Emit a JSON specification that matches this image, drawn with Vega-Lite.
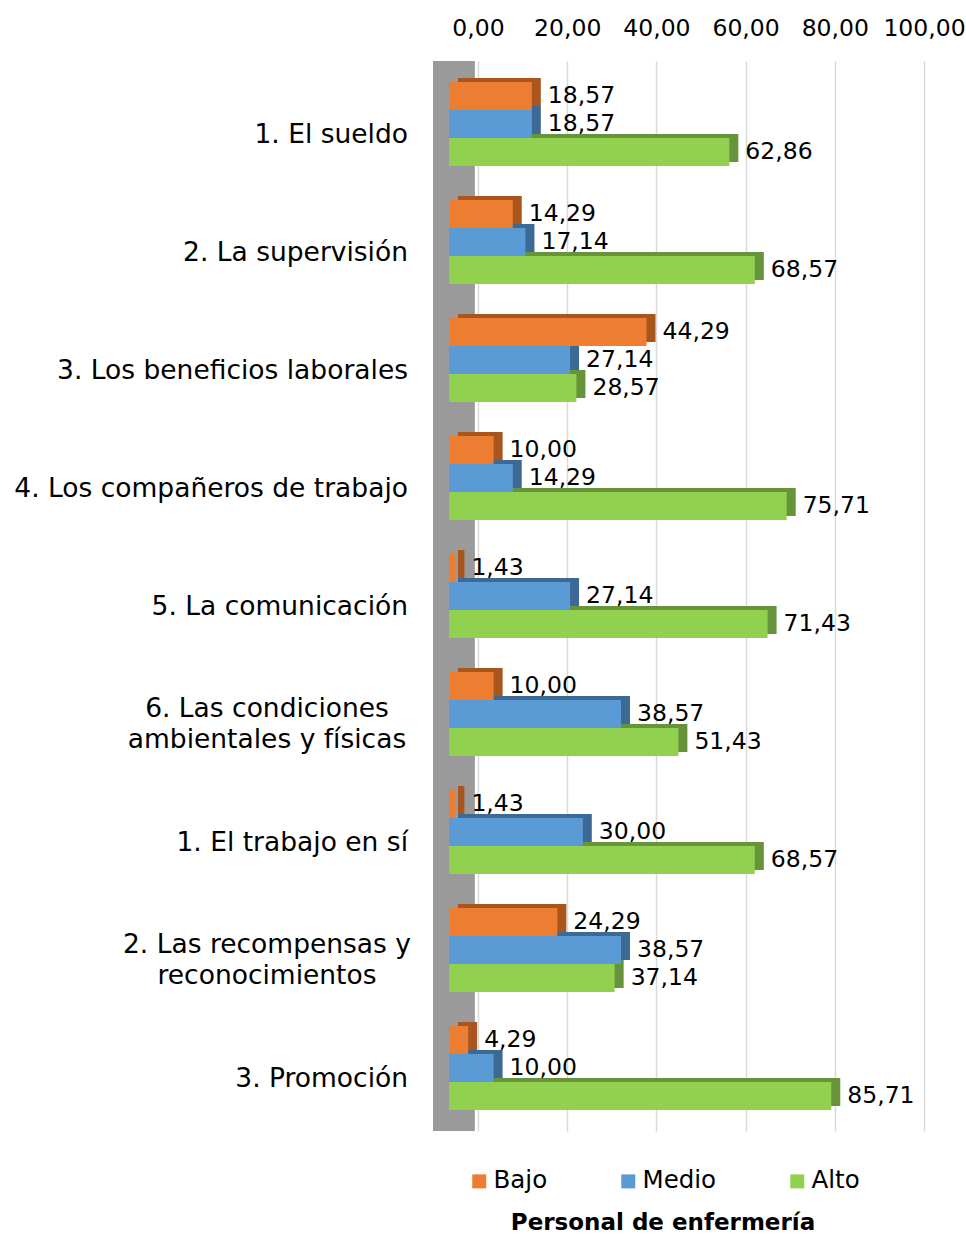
{
  "$schema": "https://vega.github.io/schema/vega-lite/v6.json",
  "width": 462,
  "height": 1070,
  "padding": {"left": 14, "top": 16, "right": 0, "bottom": 0},
  "background": "white",
  "config": {
    "view": {"stroke": null},
    "locale": {"number": {"decimal": ",", "thousands": ".", "grouping": [3], "currency": ["", " €"]}}
  },
  "data": {
    "values": [
      {"aspecto": "1. El sueldo", "nivel": "Bajo", "valor": 18.57},
      {"aspecto": "1. El sueldo", "nivel": "Medio", "valor": 18.57},
      {"aspecto": "1. El sueldo", "nivel": "Alto", "valor": 62.86},
      {"aspecto": "2. La supervisión", "nivel": "Bajo", "valor": 14.29},
      {"aspecto": "2. La supervisión", "nivel": "Medio", "valor": 17.14},
      {"aspecto": "2. La supervisión", "nivel": "Alto", "valor": 68.57},
      {"aspecto": "3. Los beneficios laborales", "nivel": "Bajo", "valor": 44.29},
      {"aspecto": "3. Los beneficios laborales", "nivel": "Medio", "valor": 27.14},
      {"aspecto": "3. Los beneficios laborales", "nivel": "Alto", "valor": 28.57},
      {"aspecto": "4. Los compañeros de trabajo", "nivel": "Bajo", "valor": 10.00},
      {"aspecto": "4. Los compañeros de trabajo", "nivel": "Medio", "valor": 14.29},
      {"aspecto": "4. Los compañeros de trabajo", "nivel": "Alto", "valor": 75.71},
      {"aspecto": "5. La comunicación", "nivel": "Bajo", "valor": 1.43},
      {"aspecto": "5. La comunicación", "nivel": "Medio", "valor": 27.14},
      {"aspecto": "5. La comunicación", "nivel": "Alto", "valor": 71.43},
      {"aspecto": "6. Las condiciones\nambientales y físicas", "nivel": "Bajo", "valor": 10.00},
      {"aspecto": "6. Las condiciones\nambientales y físicas", "nivel": "Medio", "valor": 38.57},
      {"aspecto": "6. Las condiciones\nambientales y físicas", "nivel": "Alto", "valor": 51.43},
      {"aspecto": "1. El trabajo en sí", "nivel": "Bajo", "valor": 1.43},
      {"aspecto": "1. El trabajo en sí", "nivel": "Medio", "valor": 30.00},
      {"aspecto": "1. El trabajo en sí", "nivel": "Alto", "valor": 68.57},
      {"aspecto": "2. Las recompensas y\nreconocimientos", "nivel": "Bajo", "valor": 24.29},
      {"aspecto": "2. Las recompensas y\nreconocimientos", "nivel": "Medio", "valor": 38.57},
      {"aspecto": "2. Las recompensas y\nreconocimientos", "nivel": "Alto", "valor": 37.14},
      {"aspecto": "3. Promoción", "nivel": "Bajo", "valor": 4.29},
      {"aspecto": "3. Promoción", "nivel": "Medio", "valor": 10.00},
      {"aspecto": "3. Promoción", "nivel": "Alto", "valor": 85.71}
    ]
  },
  "resolve": {"scale": {"yOffset": "independent"}},
  "layer": [
    {
      "data": {"values": [{}]},
      "mark": {"type": "rect", "color": "#9a9a9a"},
      "encoding": {
        "x": {"datum": -3.59, "type": "quantitative", "scale": {"domain": [-3.59, 100], "nice": false, "zero": false}},
        "x2": {"datum": 5.8}
      }
    },
    {
      "mark": {"type": "bar", "xOffset": 9},
      "encoding": {
        "y": {
          "field": "aspecto", "type": "nominal", "sort": null,
          "scale": {"paddingInner": 0.288, "paddingOuter": 0.178},
          "axis": null
        },
        "yOffset": {"field": "nivel", "type": "nominal", "sort": ["Bajo", "Medio", "Alto"], "scale": {"range": [-4, 80], "paddingInner": 0, "paddingOuter": 0}},
        "x": {
          "field": "valor", "type": "quantitative",
          "axis": {
            "orient": "top", "title": null, "values": [0, 20, 40, 60, 80, 100], "format": ".2f",
            "grid": true, "gridColor": "#d9d9d9", "gridWidth": 1.5, "ticks": false, "domain": false,
            "tickOffset": 29, "labelFlush": false, "labelOverlap": false, "labelPadding": 21,
            "labelFont": "DejaVu Sans", "labelFontSize": 23.5, "labelColor": "#000"
          }
        },
        "fill": {"field": "nivel", "type": "nominal", "scale": {"domain": ["Alto", "Bajo", "Medio"], "range": ["#67933A", "#A9561E", "#3D6A94"]}, "legend": null}
      }
    },
    {
      "mark": {"type": "bar"},
      "encoding": {
        "y": {"field": "aspecto", "type": "nominal", "sort": null, "axis": null},
        "yOffset": {"field": "nivel", "type": "nominal", "sort": ["Bajo", "Medio", "Alto"], "scale": {"paddingInner": 0, "paddingOuter": 0}},
        "x": {"field": "valor", "type": "quantitative"},
        "color": {
          "field": "nivel", "type": "nominal",
          "scale": {"domain": ["Bajo", "Medio", "Alto"], "range": ["#ED7D31", "#5B9BD5", "#92D050"]},
          "legend": {
            "orient": "none", "legendX": 34, "legendY": 1108, "direction": "horizontal",
            "title": "Personal de enfermería", "titleOrient": "bottom", "titleAnchor": "middle", "titleLimit": 600,
            "titleFont": "DejaVu Sans", "titleFontWeight": "bold", "titleFontSize": 23, "titleColor": "#000", "titlePadding": 19,
            "symbolType": "square", "symbolSize": 196, "symbolStrokeWidth": 0, "symbolOpacity": 1,
            "labelFont": "DejaVu Sans", "labelFontSize": 24.5, "labelColor": "#000", "labelOffset": 2,
            "columnPadding": 68, "labelLimit": 200
          }
        }
      }
    },
    {
      "mark": {"type": "text", "align": "left", "baseline": "middle", "dx": 16, "dy": 0, "font": "DejaVu Sans", "fontSize": 23.5, "color": "#000"},
      "encoding": {
        "y": {"field": "aspecto", "type": "nominal", "sort": null, "axis": null},
        "yOffset": {"field": "nivel", "type": "nominal", "sort": ["Bajo", "Medio", "Alto"], "scale": {"type": "band", "paddingInner": 0, "paddingOuter": 0}},
        "x": {"field": "valor", "type": "quantitative"},
        "text": {"field": "valor", "type": "quantitative", "format": ".2f"}
      }
    },
    {
      "transform": [{"filter": "datum.nivel == 'Medio' && indexof(datum.aspecto, '\\n') < 0"}],
      "mark": {"type": "text", "align": "right", "baseline": "middle", "dx": -25, "dy": 11, "font": "DejaVu Sans", "fontSize": 26.5, "color": "#000"},
      "encoding": {
        "y": {"field": "aspecto", "type": "nominal", "sort": null, "axis": null},
        "x": {"datum": -3.59, "type": "quantitative"},
        "text": {"field": "aspecto"}
      }
    },
    {
      "transform": [{"filter": "datum.nivel == 'Medio' && indexof(datum.aspecto, '\\n') >= 0"}],
      "mark": {"type": "text", "align": "center", "baseline": "middle", "dx": -166, "dy": -5, "font": "DejaVu Sans", "fontSize": 26.5, "lineHeight": 31, "lineBreak": "\n", "color": "#000"},
      "encoding": {
        "y": {"field": "aspecto", "type": "nominal", "sort": null, "axis": null},
        "x": {"datum": -3.59, "type": "quantitative"},
        "text": {"field": "aspecto"}
      }
    }
  ]
}
